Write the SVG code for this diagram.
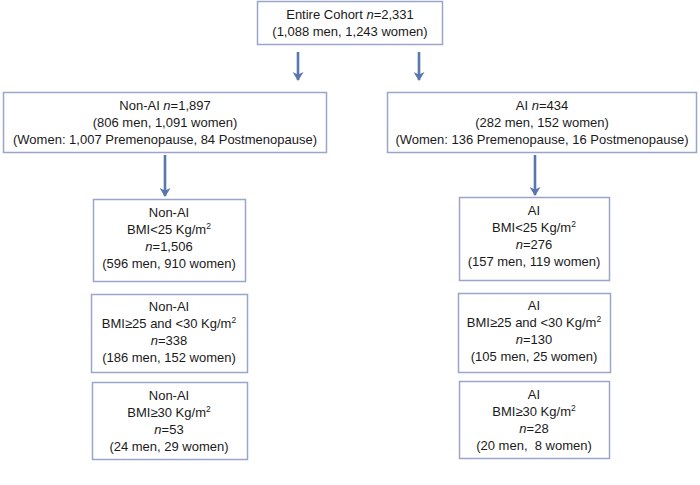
<svg xmlns="http://www.w3.org/2000/svg" width="700" height="485" viewBox="0 0 700 485">
<style>
.box{fill:#fff;stroke:#9aa5cc;stroke-width:1.5}
text{font-family:"Liberation Sans",Arial,sans-serif;font-size:13px;fill:#1a1a1a;text-anchor:middle}
.i{font-style:italic}
.sup{font-size:8.5px}
.arr{stroke:#5876b0;stroke-width:2.6;fill:none;marker-end:url(#ah)}
</style>
<defs>
<marker id="ah" markerWidth="9" markerHeight="11" refX="8" refY="5.5" orient="auto" markerUnits="userSpaceOnUse" viewBox="0 0 9 11">
<path d="M0,0 L9,5.5 L0,11 L2.5,5.5 Z" fill="#5876b0"/>
</marker>
</defs>
<rect width="700" height="485" fill="#fff"/>
<g id="connectors">
<line class="arr" x1="298" y1="52" x2="298" y2="80"/>
<line class="arr" x1="419" y1="52" x2="419" y2="80"/>
<line class="arr" x1="165" y1="155" x2="165" y2="196"/>
<line class="arr" x1="535" y1="155" x2="535" y2="195"/>
</g>
<g id="entire">
<rect class="box" x="257.5" y="1.5" width="185" height="43"/>
<text x="350" y="19">Entire Cohort <tspan class="i">n</tspan>=2,331</text>
<text x="350" y="36">(1,088 men, 1,243 women)</text>
</g>
<g id="nonai">
<rect class="box" x="3.5" y="92.5" width="323" height="60"/>
<text x="165" y="110">Non-AI <tspan class="i">n</tspan>=1,897</text>
<text x="165" y="127">(806 men, 1,091 women)</text>
<text x="165" y="144">(Women: 1,007 Premenopause, 84 Postmenopause)</text>
</g>
<g id="ai">
<rect class="box" x="387.5" y="92.5" width="309" height="60"/>
<text x="542" y="110">AI <tspan class="i">n</tspan>=434</text>
<text x="542" y="127">(282 men, 152 women)</text>
<text x="542" y="144">(Women: 136 Premenopause, 16 Postmenopause)</text>
</g>
<g id="nonai-bmi1">
<rect class="box" x="93.5" y="199.5" width="152" height="82"/>
<text x="169" y="217">Non-AI</text>
<text x="169" y="234">BMI&lt;25 Kg/m<tspan class="sup" dy="-5">2</tspan></text>
<text x="169" y="251"><tspan class="i">n</tspan>=1,506</text>
<text x="169" y="268">(596 men, 910 women)</text>
</g>
<g id="nonai-bmi2">
<rect class="box" x="91.5" y="294.5" width="156" height="78"/>
<text x="169" y="311">Non-AI</text>
<text x="169" y="328">BMI≥25 and &lt;30 Kg/m<tspan class="sup" dy="-5">2</tspan></text>
<text x="169" y="345"><tspan class="i">n</tspan>=338</text>
<text x="169" y="362">(186 men, 152 women)</text>
</g>
<g id="nonai-bmi3">
<rect class="box" x="92.5" y="382.5" width="155" height="77"/>
<text x="169" y="400">Non-AI</text>
<text x="169" y="417">BMI≥30 Kg/m<tspan class="sup" dy="-5">2</tspan></text>
<text x="169" y="434"><tspan class="i">n</tspan>=53</text>
<text x="169" y="451">(24 men, 29 women)</text>
</g>
<g id="ai-bmi1">
<rect class="box" x="459.5" y="197.5" width="150" height="83"/>
<text x="534" y="215">AI</text>
<text x="534" y="232">BMI&lt;25 Kg/m<tspan class="sup" dy="-5">2</tspan></text>
<text x="534" y="249"><tspan class="i">n</tspan>=276</text>
<text x="534" y="266">(157 men, 119 women)</text>
</g>
<g id="ai-bmi2">
<rect class="box" x="458.5" y="293.5" width="152" height="79"/>
<text x="534" y="310">AI</text>
<text x="534" y="327">BMI≥25 and &lt;30 Kg/m<tspan class="sup" dy="-5">2</tspan></text>
<text x="534" y="344"><tspan class="i">n</tspan>=130</text>
<text x="534" y="361">(105 men, 25 women)</text>
</g>
<g id="ai-bmi3">
<rect class="box" x="459.5" y="381.5" width="150" height="77"/>
<text x="534" y="399">AI</text>
<text x="534" y="416">BMI≥30 Kg/m<tspan class="sup" dy="-5">2</tspan></text>
<text x="534" y="433"><tspan class="i">n</tspan>=28</text>
<text x="534" y="450">(20 men,&#160; 8 women)</text>
</g>
</svg>
